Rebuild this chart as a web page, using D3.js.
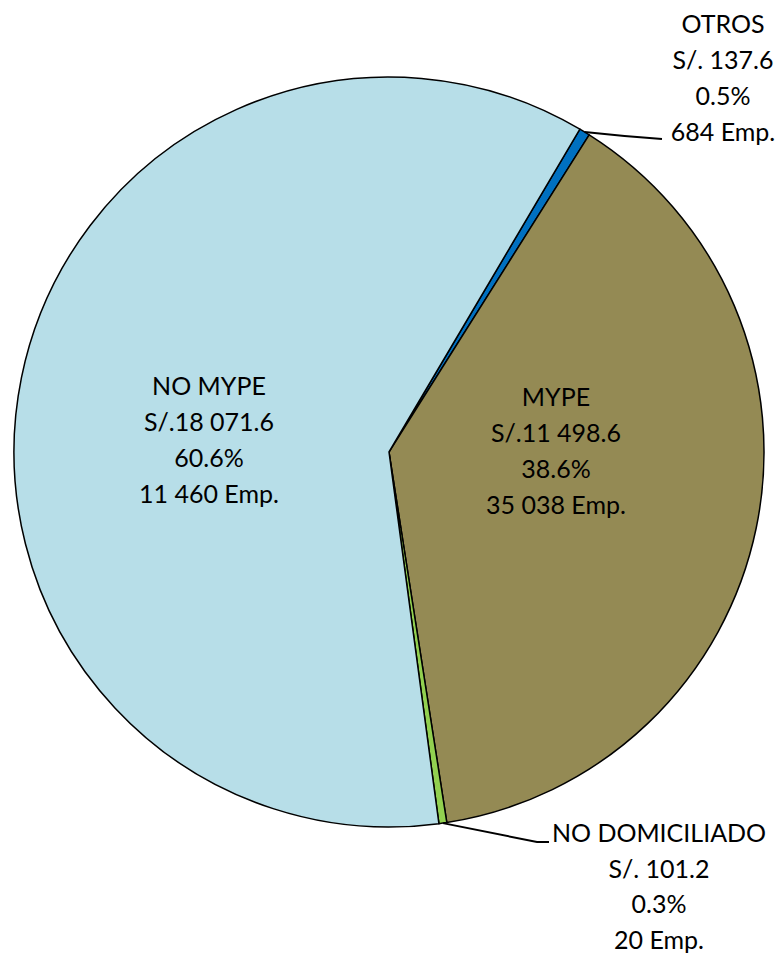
<!DOCTYPE html>
<html>
<head>
<meta charset="utf-8">
<style>
body { margin: 0; background: #fff; }
svg text { font-family: Lato, "Open Sans", sans-serif; font-size: 25px; fill: #000; }
</style>
</head>
<body>
<svg width="780" height="954"></svg>
<script src="https://d3js.org/d3.v7.min.js"></script>
<script>
// data
var categories = ["OTROS", "MYPE", "NO DOMICILIADO", "NO MYPE"];
var amounts = [137.6, 11498.6, 101.2, 18071.6];
var amountLabels = ["S/. 137.6", "S/.11 498.6", "S/. 101.2", "S/.18 071.6"];
var percents = ["0.5%", "38.6%", "0.3%", "60.6%"];
var firms = ["684 Emp.", "35 038 Emp.", "20 Emp.", "11 460 Emp."];
var colors = ["#0070C0", "#948A54", "#92D050", "#B7DEE8"];

var svg = d3.select("svg");
var cx = 389, cy = 452, R = 375;
var start = 30.6 * Math.PI / 180;

var pie = d3.pie().sort(null).value(function(d) { return d; })
  .startAngle(start).endAngle(start + 2 * Math.PI);
var arcs = pie(amounts);
var arc = d3.arc().innerRadius(0).outerRadius(R);

var g = svg.append("g").attr("transform", "translate(" + cx + "," + cy + ")");
g.selectAll("path").data(arcs).enter().append("path")
  .attr("d", arc)
  .attr("fill", function(d, i) { return colors[i]; })
  .attr("stroke", "#000")
  .attr("stroke-width", 1.5)
  .attr("stroke-linejoin", "round");

// label placement: centre x, first baseline
var labelPos = [[723, 33], [556, 406], [659, 842], [209, 395]];
var lineGap = 36;

categories.forEach(function(c, i) {
  var t = svg.append("text").attr("text-anchor", "middle");
  [c, amountLabels[i], percents[i], firms[i]].forEach(function(s, k) {
    t.append("tspan").attr("x", labelPos[i][0])
      .attr("y", labelPos[i][1] + k * (i == 2 ? 35.5 : lineGap))
      .text(s);
  });
});

// leader lines for small slices
function edgePoint(a) {
  var m = (a.startAngle + a.endAngle) / 2;
  return [cx + R * Math.sin(m), cy - R * Math.cos(m)];
}
var p0 = edgePoint(arcs[0]);
svg.append("polyline")
  .attr("points", [p0, [p0[0] + 40, p0[1] + 4], [662, p0[1] + 7]].map(function(p) { return p.join(","); }).join(" "))
  .attr("fill", "none").attr("stroke", "#000").attr("stroke-width", 2);
var p2 = edgePoint(arcs[2]);
svg.append("polyline")
  .attr("points", [p2, [537, 842], [549, 842]].map(function(p) { return p.join(","); }).join(" "))
  .attr("fill", "none").attr("stroke", "#000").attr("stroke-width", 2);
</script>
</body>
</html>
